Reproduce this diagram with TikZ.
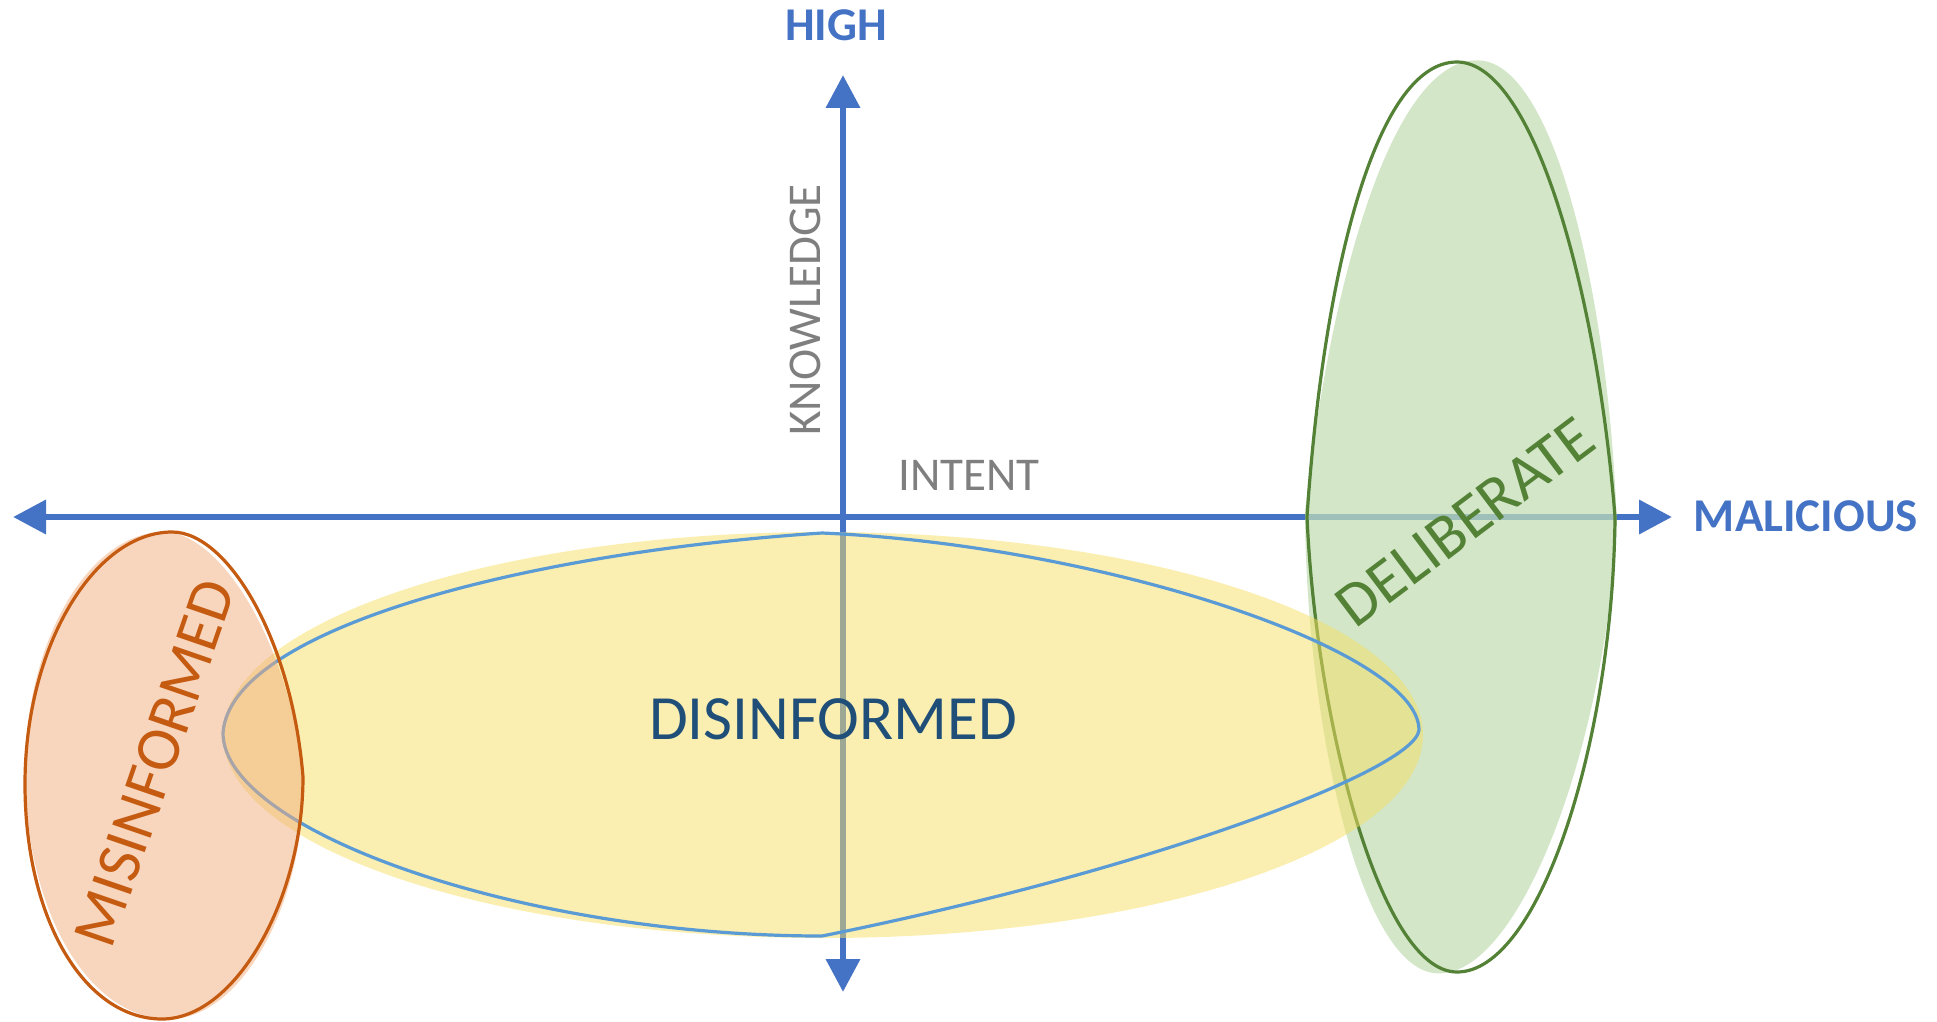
\documentclass[tikz,border=0pt]{standalone}
\usepackage{fontspec}
\setmainfont{Carlito}
\usetikzlibrary{arrows.meta}

\definecolor{axisblue}{HTML}{4472C4}
\definecolor{labelgray}{HTML}{7F7F7F}
\definecolor{disblue}{HTML}{1F4E79}
\definecolor{misorange}{HTML}{C55A11}
\definecolor{delgreen}{HTML}{538135}
\definecolor{disline}{HTML}{5B9BD5}
\definecolor{disfill}{RGB}{245,223,99}
\definecolor{misfill}{RGB}{241,173,125}
\definecolor{delfill}{RGB}{194,221,180}

\tikzset{
  axis/.style={draw=axisblue, line width=6.7pt,
    {Triangle[length=33pt,width=33pt]}-{Triangle[length=33pt,width=33pt]}},
  poleword/.style={inner sep=0pt, text=axisblue,
    font=\fontsize{47}{47}\selectfont\bfseries},
  dimword/.style={inner sep=0pt, text=labelgray,
    font=\fontsize{47}{47}\selectfont},
  regionword/.style={inner sep=0pt, font=\fontsize{63}{63}\selectfont},
  rim/.style={line width=3.2pt, line join=round},
}

\begin{document}
\begin{tikzpicture}[x=1pt,y=-1pt]
\useasboundingbox (0,0) rectangle (1937,1022);

% axes: intent (horizontal) and knowledge (vertical)
\coordinate (west) at (13,517);
\coordinate (east) at (1672,517);
\coordinate (south) at (843,992);
\coordinate (north) at (843,75);
\draw[axis] (west) -- (east);
\draw[axis] (south) -- (north);

% deliberate region
\fill[delfill, fill opacity=0.73, rotate around={-2.5:(1461,517)}]
  (1305,517) .. controls (1320,290) and (1372,60) .. (1459,60)
  .. controls (1537,60) and (1600,300) .. (1617,517)
  .. controls (1615,740) and (1540,974) .. (1457,974)
  .. controls (1378,974) and (1314,720) .. cycle;
\draw[rim, draw=delgreen]
  (1307,517) .. controls (1322,290) and (1372,62) .. (1457,62)
  .. controls (1535,62) and (1598,300) .. (1615,517)
  .. controls (1613,740) and (1540,972) .. (1457,972)
  .. controls (1380,972) and (1316,720) .. cycle;

% disinformed region
\fill[disfill, fill opacity=0.5] (823,735) ellipse [x radius=600, y radius=203];
\draw[rim, draw=disline]
  (223,733) .. controls (230,630) and (520,553) .. (822,533)
  .. controls (1100,545) and (1419,650) .. (1419,730)
  .. controls (1415,770) and (1150,870) .. (822,936)
  .. controls (520,936) and (223,830) .. cycle;

% misinformed region
\fill[misfill, fill opacity=0.5, rotate around={2.5:(164,776)}]
  (25,784) .. controls (25,645) and (95,532) .. (172,532)
  .. controls (228,532) and (292,640) .. (303,777)
  .. controls (303,900) and (235,1019) .. (162,1019)
  .. controls (85,1019) and (25,920) .. cycle;
\draw[rim, draw=misorange]
  (25,784) .. controls (25,645) and (95,532) .. (172,532)
  .. controls (228,532) and (292,640) .. (303,777)
  .. controls (303,900) and (235,1019) .. (162,1019)
  .. controls (85,1019) and (25,920) .. cycle;

% labels
\node[poleword] (high) at (836,25) {HIGH};
\node[poleword] (malicious) at (1806,516.5) {MALICIOUS};
\node[dimword, rotate=90] (knowledge) at (805,310) {KNOWLEDGE};
\node[dimword] (intent) at (969,475.5) {INTENT};
\node[regionword, text=disblue] (disinformed) at (833,719) {DISINFORMED};
\node[regionword, text=misorange, rotate=71] (misinformed) at (155,763) {MISINFORMED};
\node[regionword, text=delgreen, rotate=37] (deliberate) at (1465,522) {DELIBERATE};
\end{tikzpicture}
\end{document}
